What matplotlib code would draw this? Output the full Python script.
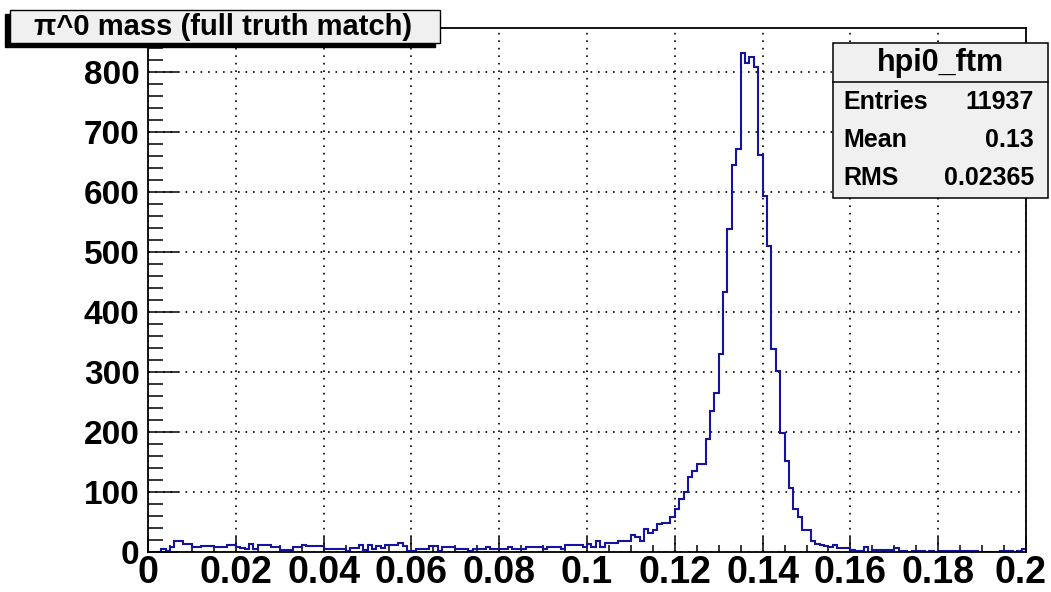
import numpy as np
import matplotlib
matplotlib.use('Agg')
import matplotlib.pyplot as plt
from matplotlib.patches import Rectangle
from matplotlib.transforms import blended_transform_factory, offset_copy

# histogram hpi0_ftm: 200 bins from 0 to 0.2
n_bins = 200
x_lo, x_hi = 0.0, 0.2
counts = [
    0, 0, 0, 5, 1, 9, 19, 19, 13, 13,
    8, 8, 10, 10, 10, 8, 8, 9, 12, 12,
    8, 6, 5, 13, 5, 12, 12, 12, 9, 9,
    4, 4, 4, 8, 8, 12, 10, 10, 10, 10,
    5, 5, 5, 5, 5, 1, 7, 7, 12, 4,
    12, 5, 10, 7, 12, 12, 12, 15, 10, 1,
    1, 5, 5, 5, 10, 10, 1, 8, 8, 8,
    5, 5, 5, 1, 5, 5, 5, 8, 5, 5,
    5, 5, 8, 5, 5, 5, 8, 8, 8, 8,
    5, 8, 8, 8, 5, 12, 12, 12, 12, 9,
    13, 8, 19, 8, 15, 15, 15, 19, 19, 19,
    29, 25, 18, 39, 31, 37, 46, 48, 48, 58,
    72, 89, 100, 125, 135, 147, 146, 189, 235, 266,
    330, 434, 538, 645, 672, 832, 815, 826, 809, 662,
    594, 510, 339, 302, 199, 151, 106, 72, 58, 36,
    36, 18, 14, 12, 10, 8, 12, 6, 6, 6,
    4, 1, 1, 8, 0, 4, 3, 3, 3, 3,
    7, 1, 1, 0, 2, 2, 2, 0, 2, 0,
    2, 2, 2, 2, 2, 2, 2, 1, 1, 0,
    0, 0, 0, 0, 2, 2, 2, 0, 2, 5,
]
y_max = 874

title = "\u03c0^0 mass (full truth match)"
hist_name = "hpi0_ftm"
stat_labels = ["Entries", "Mean", "RMS"]
stat_values = ["11937", "0.13", "0.02365"]

x_ticks = [0, 0.02, 0.04, 0.06, 0.08, 0.1, 0.12, 0.14, 0.16, 0.18, 0.2]
x_tick_labels = ["0", "0.02", "0.04", "0.06", "0.08", "0.1", "0.12", "0.14", "0.16", "0.18", "0.2"]
y_ticks = [0, 100, 200, 300, 400, 500, 600, 700, 800]

plt.rcParams['font.family'] = ['Liberation Sans', 'DejaVu Sans']
plt.rcParams['font.weight'] = 'bold'

W, H = 1051, 592
fig = plt.figure(figsize=(W / 100, H / 100), dpi=100)
fig.patch.set_facecolor('white')


def fx(px):
    return px / W


def fy(py):
    return 1 - py / H


ax = fig.add_axes([fx(148), fy(552), fx(1026) - fx(148), fy(28) - fy(552)])

edges = np.linspace(x_lo, x_hi, n_bins + 1)
ax.stairs(counts, edges, baseline=0, color='#1414a0', linewidth=1.5, zorder=3)

ax.set_xlim(x_lo, x_hi)
ax.set_ylim(0, y_max)

ax.set_xticks(x_ticks)
ax.set_xticklabels([])
ax.set_xticks(np.arange(0, 0.2001, 0.005), minor=True)
ax.set_yticks(y_ticks)
ax.set_yticklabels([str(v) for v in y_ticks])
ax.set_yticks(np.arange(0, y_max, 20), minor=True)

ax.tick_params(axis='x', which='major', direction='in', length=10.8, width=1.1)
ax.tick_params(axis='x', which='minor', direction='in', length=5.4, width=1.1)
ax.tick_params(axis='y', which='major', direction='in', length=21.6, width=1.1,
               labelsize=24, pad=6)
ax.tick_params(axis='y', which='minor', direction='in', length=10.8, width=1.1)
for lab in ax.get_yticklabels():
    lab.set_fontweight('bold')

# x labels drawn as text so the last one can sit inside the canvas like in ROOT
xlab_trans = blended_transform_factory(ax.transData, ax.transAxes)
for i, (xv, txt) in enumerate(zip(x_ticks, x_tick_labels)):
    tr = xlab_trans
    if i == len(x_ticks) - 1:
        tr = offset_copy(xlab_trans, fig=fig, x=-6, y=0, units='dots')
    ax.text(xv, -0.006, txt, transform=tr, ha='center', va='top',
            fontsize=27, fontweight='bold', clip_on=False)

ax.grid(which='major', color='black', linestyle=(0, (1, 3.5)), linewidth=1.2)
ax.set_axisbelow(True)
for s in ax.spines.values():
    s.set_linewidth(1.3)
    s.set_zorder(4)

# title box with ROOT style shadow
fig.patches.append(Rectangle((fx(5), fy(47)), fx(435) - fx(5), fy(14) - fy(47),
                             transform=fig.transFigure, facecolor='black',
                             edgecolor='black', zorder=5))
fig.patches.append(Rectangle((fx(10), fy(43)), fx(440) - fx(10), fy(10) - fy(43),
                             transform=fig.transFigure, facecolor='#f0f0f0',
                             edgecolor='black', linewidth=1.0, zorder=6))
fig.text(fx(223), fy(27), title, ha='center', va='center', fontsize=21,
         fontweight='bold', zorder=7)

# stats box
fig.patches.append(Rectangle((fx(833), fy(198)), fx(1048) - fx(833), fy(43) - fy(198),
                             transform=fig.transFigure, facecolor='#f0f0f0',
                             edgecolor='black', linewidth=1.1, zorder=6))
fig.lines.append(plt.Line2D([fx(833), fx(1048)], [fy(82), fy(82)],
                            transform=fig.transFigure, color='black',
                            linewidth=1.1, zorder=7))
fig.text(fx(940), fy(63), hist_name, ha='center', va='center', fontsize=22,
         fontweight='bold', zorder=8)
row_y = [102, 140, 178]
for lab, val, yy in zip(stat_labels, stat_values, row_y):
    fig.text(fx(843), fy(yy), lab, ha='left', va='center', fontsize=18,
             fontweight='bold', zorder=8)
    fig.text(fx(1034), fy(yy), val, ha='right', va='center', fontsize=18,
             fontweight='bold', zorder=8)

fig.savefig('out.png', dpi=100)
